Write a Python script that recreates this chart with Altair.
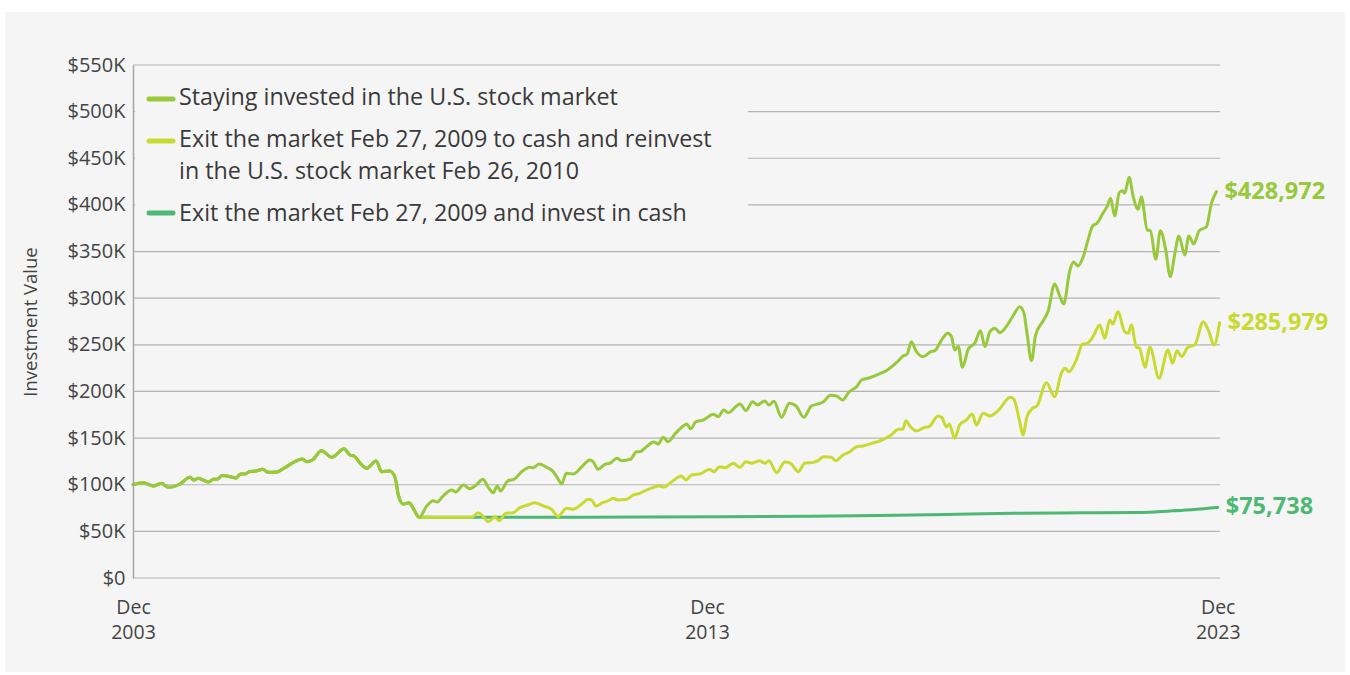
import altair as alt
import pandas as pd

# ---------------- data (months since Dec 2003, value in $K) ----------------
common_m = [0, 2.3, 4.5, 6.3, 7.8, 10.4, 12.6, 13.5, 14.4, 16.7, 17.8, 18.6, 19.8, 21.5, 22.8,
            23.8, 24.8, 25.7, 27.2, 28.7, 29.9, 31.8, 33.6, 35.5, 37.5, 38.4, 39.7, 41.7, 44.0,
            46.7, 48.0, 48.9, 50.6, 51.7, 53.8, 55.0, 56.8, 58.0, 58.7, 59.8, 61.1, 62.0, 63.3]
common_v = [100, 102, 98.6, 101.5, 97.2, 100.8, 108, 105, 106.9, 102.9, 106, 105.8, 110, 108.6, 107.2,
            111.5, 111.5, 114, 114.7, 116.5, 113.3, 113.6, 118.3, 124, 127.6, 124.7, 126.5, 136.5, 129.4,
            138.6, 131.9, 130.8, 121.2, 117.6, 125.4, 114, 114.7, 107.5, 89, 79.3, 80.7, 74.7, 65]

stay_m = [65.0, 66.4, 67.3, 68.6, 70.5, 71.4, 73.1, 74.5, 76.0, 77.4, 78.6, 79.7, 80.6, 81.3, 83.0,
          84.3, 86.0, 87.8, 88.5, 89.9, 91.5, 93.0, 94.1, 94.8, 95.9, 97.4, 99.3, 101.1, 101.8, 102.9,
          104.4, 105.5, 107.1, 108.1, 110.1, 111.4, 112.1, 113.6, 115.2, 116.2, 117.3, 118.4, 119.9,
          121.4, 122.5, 123.4, 124.5, 126.2, 128.4, 129.5, 130.7, 131.7, 134.3, 135.6, 137.1, 138.1,
          139.8, 140.7, 141.8, 143.5, 145.2, 146.7, 148.4, 150.1, 151.6, 152.7, 154.3, 155.7, 157.0,
          158.4, 160.1, 161.2, 162.6, 164.9, 166.7, 168.9, 170.4, 171.3, 172.2, 173.2, 174.8, 176.5,
          177.4, 178.9, 180.3, 181.1, 181.8, 182.6, 183.5, 184.8, 186.3, 187.5, 188.5, 189.6, 190.7,
          191.8, 193.6, 194.7, 196.2, 197.1, 197.8, 198.8, 199.7, 201.5, 202.5, 203.9, 205.1, 205.9,
          207.3, 208.1, 209.1, 210.2, 211.3, 212.3, 213.3, 214.6, 215.5, 216.3, 217.2, 218.2, 218.9,
          219.4, 220.4, 221.3, 222.4, 223.1, 224.4, 225.1, 226.3, 227.3, 228.5, 229.5, 230.5, 231.4,
          232.7, 233.6, 234.7, 235.9, 237.5, 238.6, 239.7]
stay_v = [77.2, 82.9, 81.5, 87.9, 94.3, 92.2, 99.7, 95.7, 100, 105.8, 97.2, 91.5, 98.6, 93.3, 104.4,
          105.8, 114, 118.7, 118.3, 122.2, 118.7, 114, 105.8, 100.8, 112.3, 111.5, 119.3, 126.5, 124.7, 116.5,
          121.9, 123, 128.3, 125.8, 127.3, 135.4, 135.4, 140.8, 145.8, 143.7, 150.9, 146.1, 154.4,
          161.6, 165.1, 159.8, 167.3, 169.4, 175.5, 173, 180.1, 177.2, 186.6, 179.4, 189, 185.5,
          189.8, 185.5, 189.4, 172.3, 187.3, 184.4, 172.3, 184.4, 186.6, 188.7, 195.9, 195.1, 190.8,
          199.4, 205.1, 212.3, 214.1, 218.4, 222.3, 230.8, 238, 240.2, 253.4, 243.7, 237.3, 242.6,
          243.7, 255.2, 262.4, 258.7, 244.5, 248.5, 225.9, 245.2, 252.3, 265.1, 248, 264.1, 267.7,
          263, 272.3, 280.9, 290.9, 284.5, 262.4, 233, 260.5, 276.6, 286.6, 315.2, 301.6, 293.8,
          330.2, 338.8, 334.5, 343.8, 362.4, 377.4, 380.3, 391, 398.2, 407.1, 388.1, 413.1, 415.3,
          412.5, 429.6, 408.8, 395.3, 408.8, 373.1, 372.4, 341.7, 372.4, 351.7, 323.1, 347.4, 366.7,
          346.3, 366.7, 358.1, 372.4, 376.7, 401.7, 414.2]

reinv_m = [74.9, 76.4, 77.5, 78.6, 80.1, 81.0, 82.5, 84.1, 85.6, 87.4, 88.9, 90.8, 92.6, 94.1, 94.8,
           95.9, 97.4, 99.3, 100.7, 101.5, 102.4, 103.9, 105.5, 106.2, 107.3, 109.3, 110.7, 112.1,
           113.6, 115.2, 116.2, 117.5, 119.2, 121.4, 122.3, 123.6, 125.4, 127.6, 128.5, 129.8, 131.0,
           132.8, 134.3, 135.6, 136.9, 138.7, 139.8, 140.7, 142.4, 144.2, 145.5, 147.2, 148.6, 150.5,
           151.6, 152.7, 154.5, 155.5, 157.1, 158.6, 160.1, 161.5, 163.4, 165.2, 167.4, 169.5, 170.3,
           171.0, 172.0, 173.4, 175.2, 176.1, 178.1, 178.9, 180.0, 180.6, 181.8, 182.9, 184.4, 185.7,
           186.6, 188.1, 189.6, 191.4, 194.1, 194.9, 196.1, 196.9, 197.8, 199.0, 200.0, 202.1, 203.9,
           205.4, 206.2, 207.1, 208.7, 210.1, 211.1, 212.4, 213.9, 215.0, 216.1, 216.8, 217.9, 219.4,
           220.2, 220.9, 222.0, 222.7, 223.9, 225.0, 227.0, 229.0, 230.0, 231.0, 232.0, 233.4, 234.9,
           236.8, 237.9, 239.2, 240.4]
reinv_v = [65, 70, 65.7, 60.4, 65.7, 61.4, 69.4, 70, 75.4, 78.3, 80.7, 77.2, 73.7, 65.7, 69.4,
           74.7, 73.7, 79.3, 84.4, 83.6, 77.2, 80.7, 83.6, 85.5, 83.6, 84.4, 89, 90.8,
           94.3, 97.2, 98.6, 97.5, 103.3, 109.4, 105.1, 110.4, 111.5, 116.5, 114, 119.3, 118.3,
           123, 118.7, 124.7, 123, 125.8, 123, 125.8, 112.9, 124.4, 123, 114, 123, 124,
           125.8, 130.1, 129.4, 125.8, 131.9, 135.4, 140.8, 141.5, 144.4, 146.9, 152.2, 159.4, 159.4,
           168.7, 162.2, 157.6, 161.6, 162.2, 173.7, 172.3, 162, 165, 149.8, 164, 169.4, 175.8,
           164, 176.6, 173.7, 179.4, 193.7, 191.6, 169.4, 153.3, 173, 181.9, 184.4, 209.4, 194.4,
           219.5, 224.8, 221.2, 233.7, 250.9, 251.6, 258.7, 271.3, 257, 276.6, 272.3, 285.5, 264.1,
           262.4, 271.3, 247.4, 246.3, 225.9, 247.4, 214.1, 244.5, 230.2, 243.7, 237.3, 247.4, 249.8,
           274.8, 265.9, 249.8, 273.7]

cash_m = [80, 100, 130, 150, 165, 180, 195, 210, 222, 230, 240]
cash_v = [65.1, 65.2, 65.6, 66.2, 67.0, 68.2, 69.5, 69.9, 70.2, 72.0, 75.7]

series_names = [
    "Staying invested in the U.S. stock market",
    "Exit the market Feb 27, 2009 to cash and reinvest in the U.S. stock market Feb 26, 2010",
    "Exit the market Feb 27, 2009 and invest in cash",
]
legend_lines = [
    ["Staying invested in the U.S. stock market"],
    ["Exit the market Feb 27, 2009 to cash and reinvest", "in the U.S. stock market Feb 26, 2010"],
    ["Exit the market Feb 27, 2009 and invest in cash"],
]
colors = ["#98c93c", "#c8da2f", "#4db874"]
end_labels = ["$428,972", "$285,979", "$75,738"]

y_ticks = list(range(0, 550001, 50000))
x_ticks = [0, 127, 240]
x_tick_labels = [["Dec", "2003"], ["Dec", "2013"], ["Dec", "2023"]]

FONT = "Open Sans"
W, H = 1087, 513
BG = "#f5f5f5"

# ---------------- build table ----------------
rows = []
def add(name, ms, vs):
    for m, v in zip(ms, vs):
        rows.append({"series": name, "month": m, "value": v * 1000})

add(series_names[0], common_m + stay_m, common_v + stay_v)
add(series_names[1], common_m + reinv_m, common_v + reinv_v)
add(series_names[2], common_m + cash_m, common_v + cash_v)
df = pd.DataFrame(rows)

ends = []
for name, lab, col in zip(series_names, end_labels, colors):
    last = df[df.series == name].sort_values("month").iloc[-1]
    ends.append({"series": name, "month": last.month, "value": last.value, "label": lab, "color": col})
ends_df = pd.DataFrame(ends)

x_scale = alt.Scale(domain=[0, 240.5], nice=False, zero=False)
y_scale = alt.Scale(domain=[0, 550000], nice=False)

label_expr = " : ".join(
    f"datum.value == {t} ? ['{a}','{b}']" for t, (a, b) in zip(x_ticks[:-1], x_tick_labels[:-1])
) + f" : ['{x_tick_labels[-1][0]}','{x_tick_labels[-1][1]}']"

x_axis = alt.Axis(values=x_ticks, labelExpr=label_expr, grid=False, domain=False, ticks=False,
                  labelFlush=False, labelOverlap=False, labelFontSize=19.5, labelColor="#444444",
                  labelPadding=20, labelLineHeight=25, labelBaseline="top", title=None, zindex=1)
y_axis = alt.Axis(values=y_ticks,
                  labelExpr="datum.value == 0 ? '$0' : '$' + format(datum.value/1000, 'd') + 'K'",
                  grid=False, domain=True, domainColor="#a6a6a6", domainWidth=1.5, ticks=False,
                  labelFontSize=20, labelColor="#444444", labelPadding=8,
                  title="Investment Value", titleFontSize=18.5, titleFontWeight="normal",
                  titleColor="#444444", titleX=-93, titleY=H / 2, zindex=1)

# panel background
panel = alt.Chart(pd.DataFrame({"a": [0]})).mark_rect(color=BG).encode(
    x=alt.value(-128), x2=alt.value(W + 125), y=alt.value(-53), y2=alt.value(H + 94))

grid = alt.Chart(pd.DataFrame({"v": y_ticks})).mark_rule(color="#b3b3b3", strokeWidth=1.2).encode(
    y=alt.Y("v:Q", scale=y_scale, axis=y_axis))

legend_box = alt.Chart(pd.DataFrame({"a": [0]})).mark_rect(color=BG).encode(
    x=alt.value(2), x2=alt.value(615), y=alt.value(12), y2=alt.value(172))

line_layers = []
for i in [2, 1, 0]:
    line_layers.append(
        alt.Chart(df).transform_filter(alt.datum.series == series_names[i])
        .mark_line(color=colors[i], strokeWidth=3, interpolate="monotone", strokeCap="round")
        .encode(x=alt.X("month:Q", scale=x_scale, axis=x_axis),
                y=alt.Y("value:Q", scale=y_scale, axis=y_axis))
    )

end_text = alt.Chart(ends_df).mark_text(align="left", baseline="middle", dx=8, fontSize=23.5,
                                         fontWeight="bold", font=FONT).encode(
    x=alt.X("month:Q", scale=x_scale), y=alt.Y("value:Q", scale=y_scale),
    text="label:N", color=alt.Color("color:N", scale=None))

# legend
legend_layers = []
sw_y = [34, 76, 148]
txt_y = [[33], [75, 107], [149]]
for i in range(3):
    legend_layers.append(
        alt.Chart(pd.DataFrame({"a": [0]})).mark_rule(color=colors[i], strokeWidth=5, strokeCap="round")
        .encode(x=alt.value(16), x2=alt.value(40), y=alt.value(sw_y[i]))
    )
    for line, yy in zip(legend_lines[i], txt_y[i]):
        legend_layers.append(
            alt.Chart(pd.DataFrame({"a": [0]})).mark_text(align="left", baseline="middle", fontSize=23.3,
                                                         font=FONT, color="#3a3a3a")
            .encode(x=alt.value(46), y=alt.value(yy), text=alt.value(line))
        )

chart = alt.layer(panel, grid, legend_box, *line_layers, end_text, *legend_layers).properties(
    width=W, height=H, background="#ffffff",
    padding={"left": 5, "top": 12, "right": 5, "bottom": 3},
).configure_view(stroke=None).configure(font=FONT)

chart.save("out.html", embed_options={"renderer": "svg", "actions": False})
